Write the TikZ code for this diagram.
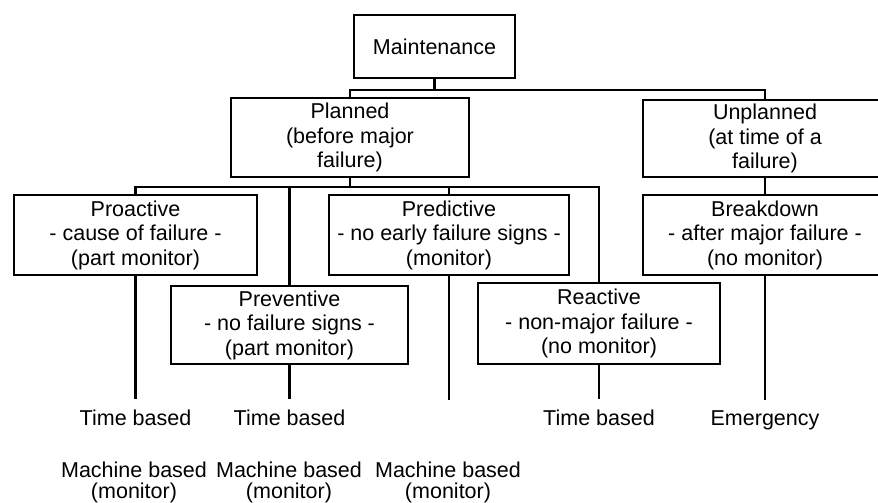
\documentclass[tikz,border=0pt]{standalone}
\usepackage{fontspec}
\setmainfont{Liberation Sans}
\begin{document}
\begin{tikzpicture}[x=1pt,y=-1pt, line width=2.3pt,
  box/.style={draw, align=center, inner sep=0pt, font=\fontsize{21.5}{24.5}\selectfont},
  leaf/.style={inner xsep=0pt, inner ysep=9pt, font=\fontsize{21.5}{21}\selectfont},
  mach/.style={inner sep=0pt, align=center, font=\fontsize{21.5}{21}\selectfont}]
\useasboundingbox (0,0) rectangle (878,503);
\clip (0,0) rectangle (878,503);
% boxes
\node[box, minimum width=161pt, minimum height=63pt] (M) at (434.5,46.5) {Maintenance};
\node[box, minimum width=238pt, minimum height=79pt] (P) at (350,137.5) {Planned\\(before major\\failure)};
\node[box, minimum width=244pt, minimum height=77pt] (U) at (765,138.5) {Unplanned\\(at time of a\\failure)};
\node[box, minimum width=243pt, minimum height=80pt] (Pro) at (135.5,235) {Proactive\\- cause of failure -\\(part monitor)};
\node[box, minimum width=240pt, minimum height=80pt] (Pred) at (449,235) {Predictive\\- no early failure signs -\\(monitor)};
\node[box, minimum width=244pt, minimum height=80pt] (B) at (765,235) {Breakdown\\- after major failure -\\(no monitor)};
\node[box, minimum width=237pt, minimum height=78pt] (Prev) at (289.5,325) {Preventive\\- no failure signs -\\(part monitor)};
\node[box, minimum width=242pt, minimum height=81pt] (Rea) at (599,323.5) {Reactive\\- non-major failure -\\(no monitor)};
% leaves
\node[leaf, anchor=base] (t1) at (135.5,425) {Time based};
\node[leaf, anchor=base] (t2) at (289.5,425) {Time based};
\node[leaf, anchor=base] (t3) at (599,425) {Time based};
\node[leaf, anchor=base] (t4) at (765,425) {Emergency};
\node[mach, anchor=north] (m1) at (134,461) {Machine based\\(monitor)};
\node[mach, anchor=north] (m2) at (289,461) {Machine based\\(monitor)};
\node[mach, anchor=north] (m3) at (448,461) {Machine based\\(monitor)};
% connectors
\coordinate (j1) at (435,90);
\draw (M.south) -- (M.south |- j1);
\draw (P.north) |- (j1) -| (U.north);
\coordinate (j2) at (350,187);
\draw (P.south) -- (j2);
\draw (Pro.north) |- (j2) -| (Rea.north);
\draw (Prev.north) -- (Prev.north |- j2);
\draw (Pred.north) -- (Pred.north |- j2);
\draw (U.south) -- (B.north);
\draw (Pro.south) -- (Pro.south |- t1.north);
\draw (Prev.south) -- (Prev.south |- t2.north);
\draw (Rea.south) -- (Rea.south |- t3.north);
\draw (B.south) -- (B.south |- t4.north);
\coordinate (e3) at (449,400);
\draw (Pred.south) -- (e3);
\end{tikzpicture}
\end{document}
